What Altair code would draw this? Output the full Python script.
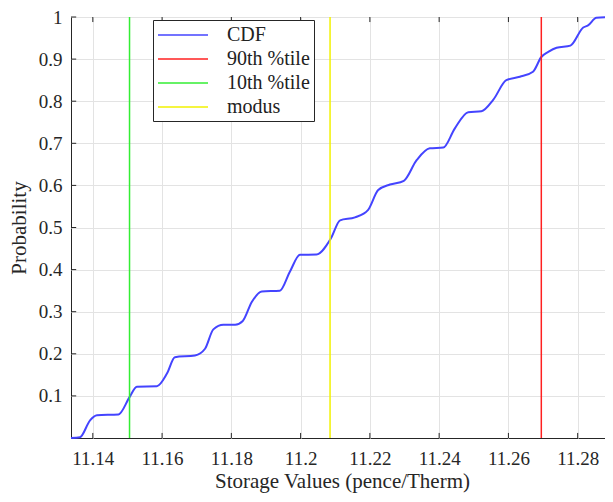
import altair as alt
import pandas as pd

# CDF curve
cdf_x = [11.1337, 11.1363, 11.1392, 11.1412, 11.1474, 11.1506, 11.1527, 11.1585,
         11.1614, 11.1637, 11.1695, 11.1724, 11.1748, 11.1777, 11.1811, 11.1833,
         11.1859, 11.1888, 11.1940, 11.1969, 11.1998, 11.2046, 11.2088, 11.2114,
         11.2157, 11.2195, 11.2224, 11.2258, 11.2298, 11.2335, 11.2373, 11.2412,
         11.2445, 11.2484, 11.2522, 11.2556, 11.2594, 11.2633, 11.2671, 11.2695,
         11.2715, 11.2739, 11.2779, 11.2816, 11.2830, 11.2854, 11.2902]
cdf_y = [0.0, 0.002, 0.042, 0.054, 0.056, 0.097, 0.122, 0.123,
         0.153, 0.192, 0.196, 0.212, 0.258, 0.269, 0.269, 0.278,
         0.323, 0.348, 0.350, 0.395, 0.435, 0.436, 0.475, 0.517,
         0.524, 0.542, 0.589, 0.602, 0.611, 0.660, 0.688, 0.690,
         0.735, 0.774, 0.776, 0.803, 0.850, 0.858, 0.870, 0.905,
         0.917, 0.927, 0.932, 0.975, 0.980, 0.998, 1.0]

series_names = ["CDF", "90th %tile", "10th %tile", "modus"]
series_colors = ["#4444ff", "#ff2020", "#33ee33", "#f2f200"]
marker_names = ["90th %tile", "10th %tile", "modus"]
marker_values = [11.2695, 11.1506, 11.2085]

x_ticks = [11.14, 11.16, 11.18, 11.2, 11.22, 11.24, 11.26, 11.28]
y_ticks = [0.1, 0.2, 0.3, 0.4, 0.5, 0.6, 0.7, 0.8, 0.9, 1.0]
x_min, x_max = 11.1337, 11.2902

cdf_df = pd.DataFrame({"x": cdf_x, "y": cdf_y, "series": "CDF"})
mk_df = pd.DataFrame({"x": marker_values, "series": marker_names})

FONT = "Liberation Serif"
TXT = "#262626"
color = alt.Color("series:N",
                  scale=alt.Scale(domain=series_names, range=series_colors),
                  sort=series_names,
                  legend=alt.Legend(title=None, orient="none", legendX=82, legendY=3,
                                    symbolType="M-2.5,0H2.5", symbolSize=400,
                                    symbolStrokeWidth=1.6, symbolOffset=15,
                                    labelOffset=33, labelFont=FONT, labelAlign="left",
                                    labelFontSize=20, labelColor="#222222",
                                    strokeColor="#262626", fillColor="white",
                                    padding=4, rowPadding=3))

xs = alt.Scale(domain=[x_min, x_max], nice=False, zero=False)
ys = alt.Scale(domain=[0, 1], nice=False)

x_axis = alt.Axis(values=x_ticks, format="~g", title="Storage Values (pence/Therm)",
                  grid=True, ticks=False, domain=False, labelPadding=11,
                  labelFont=FONT, titleFont=FONT, labelFontSize=19, titleFontSize=21,
                  labelColor=TXT, titleColor=TXT, titleFontWeight="normal",
                  titleY=49, titleBaseline="alphabetic")
y_axis = alt.Axis(values=y_ticks, format="~g", title="Probability",
                  grid=True, ticks=False, domain=False, labelPadding=9,
                  labelFont=FONT, titleFont=FONT, labelFontSize=19, titleFontSize=21,
                  labelColor=TXT, titleColor=TXT, titleFontWeight="normal",
                  titleX=-52, titleBaseline="middle")

line = alt.Chart(cdf_df).mark_line(interpolate="monotone", strokeWidth=2).encode(
    x=alt.X("x:Q", scale=xs, axis=x_axis),
    y=alt.Y("y:Q", scale=ys, axis=y_axis),
    color=color,
)

rules = alt.Chart(mk_df).mark_rule(strokeWidth=1.5).encode(
    x=alt.X("x:Q", scale=xs),
    color=color,
)

# inward tick marks (MATLAB box style)
xt_df = pd.DataFrame({"x": x_ticks})
yt_df = pd.DataFrame({"y": y_ticks})
tick_col = "#262626"
bottom_ticks = alt.Chart(xt_df).mark_rule(color=tick_col, strokeWidth=1).encode(
    x=alt.X("x:Q", scale=xs), y=alt.datum(0.0), y2=alt.datum(0.012))
top_ticks = alt.Chart(xt_df).mark_rule(color=tick_col, strokeWidth=1).encode(
    x=alt.X("x:Q", scale=xs), y=alt.datum(1.0), y2=alt.datum(0.988))
left_ticks = alt.Chart(yt_df).mark_rule(color=tick_col, strokeWidth=1).encode(
    y=alt.Y("y:Q", scale=ys), x=alt.datum(x_min), x2=alt.datum(x_min + 0.0015))
right_ticks = alt.Chart(yt_df).mark_rule(color=tick_col, strokeWidth=1).encode(
    y=alt.Y("y:Q", scale=ys), x=alt.datum(x_max), x2=alt.datum(x_max - 0.0015))

chart = alt.layer(line, rules, bottom_ticks, top_ticks, left_ticks, right_ticks).properties(
    width=542, height=421,
    padding={"left": 63, "top": 9, "right": -8, "bottom": 56},
    autosize="none",
).configure_view(
    stroke="#262626", strokeWidth=1
).configure_axis(
    labelFont=FONT, titleFont=FONT,
    gridColor="#e3e3e3", gridWidth=1,
)

chart.save("out.html", embed_options={"renderer": "svg", "actions": False})
